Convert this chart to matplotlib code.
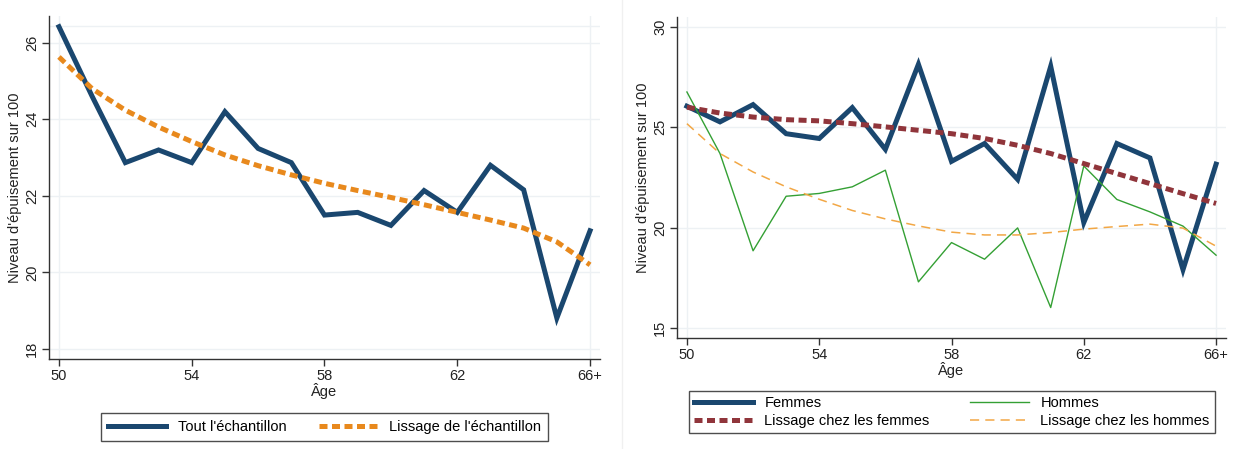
import matplotlib
matplotlib.use("Agg")
import matplotlib.pyplot as plt
from matplotlib.lines import Line2D

plt.rcParams['font.family'] = ['Liberation Sans', 'DejaVu Sans']

ages = list(range(50, 67))
xtick_pos = [50, 54, 58, 62, 66]
xtick_labels = ['50', '54', '58', '62', '66+']

tout = [26.42, 24.6, 22.87, 23.2, 22.87, 24.2, 23.24, 22.87, 21.5, 21.57,
        21.23, 22.14, 21.57, 22.8, 22.16, 18.81, 21.09]
lissage_tout = [25.63, 24.8, 24.24, 23.8, 23.42, 23.07, 22.79, 22.55, 22.33,
                22.14, 21.96, 21.77, 21.57, 21.37, 21.16, 20.8, 20.2]

femmes = [26.05, 25.27, 26.13, 24.68, 24.44, 25.98, 23.9, 28.14, 23.3, 24.19,
          22.4, 28.04, 20.25, 24.19, 23.47, 17.9, 23.16]
hommes = [26.76, 23.69, 18.84, 21.56, 21.7, 22.03, 22.86, 17.29, 19.25, 18.42,
          19.98, 16.01, 23.07, 21.4, 20.78, 20.07, 18.62]
lissage_femmes = [26.0, 25.71, 25.51, 25.38, 25.32, 25.18, 25.02, 24.85, 24.68,
                  24.44, 24.1, 23.69, 23.19, 22.69, 22.19, 21.69, 21.2]
lissage_hommes = [25.18, 23.69, 22.77, 22.03, 21.41, 20.85, 20.43, 20.08, 19.77,
                  19.63, 19.63, 19.75, 19.92, 20.05, 20.17, 19.97, 19.07]

left_yticks = [18, 20, 22, 24, 26]
right_yticks = [15, 20, 25, 30]

NAVY = '#1a476f'
ORANGE = '#e8891d'
MAROON = '#90353b'
GREEN = '#34a034'
LORANGE = '#f2a745'
GRID = '#edf1f4'
SPINE = '#333333'
FS = 10.5

W, H = 1233, 449
fig = plt.figure(figsize=(W / 100, H / 100), dpi=100)
fig.patch.set_facecolor('white')

ax1 = fig.add_axes([49 / W, 1 - 359 / H, (600 - 49) / W, (359 - 16) / H])
ax2 = fig.add_axes([677 / W, 1 - 338 / H, (1226 - 677) / W, (338 - 17) / H])

# faint separator between panels
fig.add_artist(Line2D([622 / W, 622 / W], [0, 1], transform=fig.transFigure,
                      color='#f0f0f0', lw=1))


def style(ax, yticks, ylim):
    ax.set_xlim(49.7, 66.3)
    ax.set_ylim(*ylim)
    for s in ['top', 'right']:
        ax.spines[s].set_visible(False)
    for s in ['left', 'bottom']:
        ax.spines[s].set_color(SPINE)
        ax.spines[s].set_linewidth(1.0)
    ax.set_xticks(xtick_pos)
    ax.set_xticklabels(xtick_labels)
    ax.set_yticks(yticks)
    ax.set_yticklabels([str(t) for t in yticks], rotation=90, va='center')
    ax.tick_params(axis='both', direction='out', length=5, width=1,
                   color=SPINE, labelsize=FS, labelcolor='#222222', pad=2)
    for t in yticks:
        ax.axhline(t, color=GRID, lw=1.0, zorder=0)
    ax.axvline(50, color=GRID, lw=1.0, zorder=0)
    ax.axvline(66, color=GRID, lw=1.0, zorder=0)
    ax.set_xlabel('Âge', fontsize=FS, color='#222222', labelpad=0)
    ax.set_ylabel("Niveau d'épuisement sur 100", fontsize=FS, color='#222222',
                  labelpad=2)


style(ax1, left_yticks, (17.74, 26.7))
ax1.axhline(26.45, color=GRID, lw=1.0, zorder=0)
style(ax2, right_yticks, (14.49, 30.5))

l1, = ax1.plot(ages, tout, color=NAVY, lw=3.6, solid_joinstyle='miter',
               label="Tout l'échantillon", zorder=3)
l2, = ax1.plot(ages, lissage_tout, color=ORANGE, lw=3.6,
               linestyle=(0, (1.6, 0.9)), dash_capstyle='butt',
               label="Lissage de l'échantillon", zorder=4)

f1, = ax2.plot(ages, femmes, color=NAVY, lw=3.6, solid_joinstyle='miter',
               label='Femmes', zorder=3)
h1, = ax2.plot(ages, hommes, color=GREEN, lw=1.0, label='Hommes', zorder=3)
f2, = ax2.plot(ages, lissage_femmes, color=MAROON, lw=3.6,
               linestyle=(0, (1.6, 0.9)), dash_capstyle='butt',
               label='Lissage chez les femmes', zorder=4)
h2, = ax2.plot(ages, lissage_hommes, color=LORANGE, lw=1.1,
               linestyle=(0, (6, 4)), label='Lissage chez les hommes', zorder=4)

leg1 = fig.legend(handles=[l1, l2], loc='center',
                  bbox_to_anchor=(324.5 / W, 1 - 427 / H), ncol=2,
                  fontsize=FS, frameon=True, fancybox=False, handlelength=4.0,
                  handletextpad=0.8, columnspacing=2.2, borderpad=0.5,
                  edgecolor='#222222')
leg1.get_frame().set_linewidth(1.0)

leg2 = fig.legend(handles=[f1, f2, h1, h2], loc='lower left',
                  bbox_to_anchor=(682 / W, 1 - 440 / H, 540 / W, 52 / H),
                  mode='expand', ncol=2, fontsize=FS, frameon=True,
                  fancybox=False, handlelength=4.0, handletextpad=0.8,
                  borderpad=0.35, labelspacing=0.25, edgecolor='#222222')
leg2.get_frame().set_linewidth(1.0)

fig.savefig('out.png', dpi=100, facecolor='white')
